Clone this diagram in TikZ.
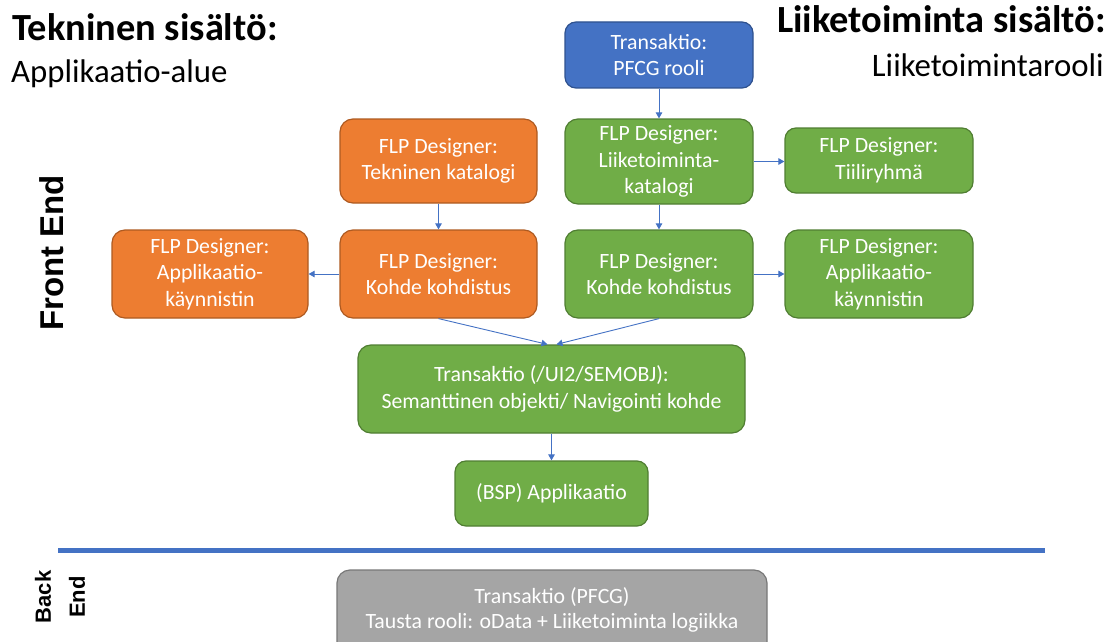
\documentclass[tikz,border=0pt]{standalone}
\usepackage{fontspec}
\setmainfont{Carlito}
\newfontfamily\arialb{Liberation Sans}
\usetikzlibrary{arrows.meta}
\definecolor{cblue}{HTML}{4472C4}
\definecolor{cblued}{HTML}{2F528F}
\definecolor{corange}{HTML}{ED7D31}
\definecolor{corganged}{HTML}{AE5A21}
\definecolor{cgreen}{HTML}{70AD47}
\definecolor{cgreend}{HTML}{507E32}
\definecolor{cgrey}{HTML}{A5A5A5}
\definecolor{cgreyd}{HTML}{787878}
\begin{document}
\begin{tikzpicture}[x=1pt,y=-1pt,
  box/.style={rounded corners=13pt, line width=1.2pt, text=white, align=center,
    font=\fontsize{21.8}{26.5}\selectfont, inner sep=0pt},
  bbox/.style={box, fill=cblue, draw=cblued},
  obox/.style={box, fill=corange, draw=corganged},
  gbox/.style={box, fill=cgreen, draw=cgreend},
  greybox/.style={box, fill=cgrey, draw=cgreyd},
  conn/.style={draw=cblue, line width=0.9pt, -{Triangle[length=6pt,width=6.5pt]}},
  hbold/.style={inner sep=0pt, font=\fontsize{38.4}{45}\selectfont\bfseries},
  hreg/.style={inner sep=0pt, font=\fontsize{32.8}{40}\selectfont},
  side/.style={inner sep=0pt, rotate=90}]
\useasboundingbox (0,0) rectangle (1112,642);

% headers
\node[hbold, anchor=base west] (t1) at (12,40.7) {Tekninen sisältö:};
\node[hreg, anchor=base west] (t2) at (11,82) {Applikaatio-alue};
\node[hbold, anchor=base east] (t3) at (1106,33) {Liiketoiminta sisältö:};
\node[hreg, anchor=base east] (t4) at (1104,77) {Liiketoimintarooli};

% side labels
\node[side, font=\arialb\bfseries\fontsize{33}{40}\selectfont] (fe) at (52,253) {Front End};
\node[side, align=center, font=\arialb\bfseries\fontsize{22}{34}\selectfont] (be) at (60,597) {Back\\End};

% boxes
\node[bbox, minimum width=188, minimum height=66, rounded corners=11pt] (blue) at (659,55) {Transaktio:\\PFCG rooli};
\node[gbox, minimum width=188, minimum height=85] (gkat) at (659,161.5) {FLP Designer:\\Liiketoiminta-\\katalogi};
\node[gbox, minimum width=188, minimum height=88] (gkoh) at (659,274) {FLP Designer:\\Kohde kohdistus};
\node[obox, minimum width=197, minimum height=84] (okat) at (438.5,161) {FLP Designer:\\Tekninen katalogi};
\node[obox, minimum width=197, minimum height=88] (okoh) at (438.5,274) {FLP Designer:\\Kohde kohdistus};
\node[obox, minimum width=196, minimum height=88] (oapp) at (210,274) {FLP Designer:\\Applikaatio-\\käynnistin};
\node[gbox, minimum width=188, minimum height=65, rounded corners=11pt] (gtii) at (879,160.5) {FLP Designer:\\Tiiliryhmä};
\node[gbox, minimum width=188, minimum height=88] (gapp) at (879,274) {FLP Designer:\\Applikaatio-\\käynnistin};
\node[gbox, minimum width=387, minimum height=88] (sem) at (551.5,389) {Transaktio (/UI2/SEMOBJ):\\Semanttinen objekti/ Navigointi kohde};
\node[gbox, minimum width=193, minimum height=65, rounded corners=11pt] (bsp) at (551.5,493.5) {(BSP) Applikaatio};

% separator
\coordinate (l1) at (58,550);
\coordinate (l2) at (1045,550);
\draw[cblue, line width=5pt] (l1) -- (l2);

% back end box
\node[greybox, minimum width=430, minimum height=90] (grey) at (552,615) {};
\node[text=white, align=center, inner sep=0pt, font=\fontsize{21.8}{24.5}\selectfont] (greytxt) at (552,610) {Transaktio (PFCG)\\Tausta rooli: oData + Liiketoiminta logiikka};

% connectors
\draw[conn] (blue) -- (gkat);
\draw[conn] (gkat) -- (gkoh);
\draw[conn] (gkat.east) -- (gkat.east -| gtii.west);
\draw[conn] (gkoh.east) -- (gkoh.east -| gapp.west);
\draw[conn] (okat) -- (okoh);
\draw[conn] (okoh.west) -- (okoh.west -| oapp.east);
\draw[conn] (okoh.south) -- ([xshift=-4pt]sem.north);
\draw[conn] (gkoh.south) -- ([xshift=5pt]sem.north);
\draw[conn] (sem) -- (bsp);
\end{tikzpicture}
\end{document}
